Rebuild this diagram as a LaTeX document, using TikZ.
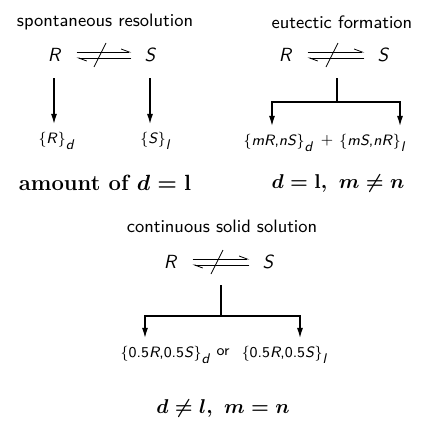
\RequirePackage{fix-cm}
\documentclass[tikz,border=0pt]{standalone}
\usepackage{amsmath,amssymb}
\usepackage{tikz}
\usetikzlibrary{arrows.meta,calc,positioning}
\def\sub#1{\raisebox{-.9ex}{\scriptsize\slshape#1}}
\def\ital#1{\textsl{#1}}
% crossed equilibrium harpoons between two named nodes
\newcommand\equil[2]{%
  \draw[harp,shorten <=7pt,shorten >=5.5pt]
    ([yshift=1.5pt]#1.east) -- ([yshift=1.5pt]#2.west);
  \draw[harp,shorten <=5.5pt,shorten >=7pt]
    ([yshift=-1.5pt]#2.west) -- ([yshift=-1.5pt]#1.east);
  \draw[slash] ($(#1.east)!.47!(#2.west)$) ++(-3pt,-6pt) -- ++(6pt,12pt);}

\begin{document}
\begin{tikzpicture}[x=0.5pt,y=-0.5pt,>=Latex,
  title/.style={font=\sffamily\fontsize{9}{11}\selectfont},
  sym/.style={font=\sffamily\slshape\fontsize{9.5}{11}\selectfont,inner sep=1pt},
  prod/.style={font=\sffamily\fontsize{7.5}{9}\selectfont,inner sep=1pt},
  cond/.style={font=\bfseries\boldmath\fontsize{11}{13}\selectfont},
  condm/.style={font=\bfseries\boldmath\fontsize{10}{12}\selectfont},
  harp/.style={thin,-{Straight Barb[left,length=4pt,width=3pt]}},
  slash/.style={thin},
  arr/.style={-{Latex[length=5pt,width=3pt]},semithick,shorten >=3pt},
  branch/.style={semithick}]
  \useasboundingbox (0,0) rectangle (435,420);
  % spontaneous resolution
  \node[title] (t1) at (105,22) {spontaneous resolution};
  \node[sym] (r1) at (54,55) {R};
  \node[sym] (s1) at (150,55) {S};
  \equil{r1}{s1}
  \node[prod] (p1) at (56,141) {\{\ital{R}\}\sub{d}};
  \node[prod] (p2) at (155,141) {\{\ital{S}\}\sub{l}};
  \node[cond] (c1) at (105,183) {amount of $d=\mathbf{l}$};
  \draw[arr] ([yshift=-7pt]r1.south) -- (r1.south |- p1.north);
  \draw[arr] ([yshift=-7pt]s1.south) -- (s1.south |- p2.north);
  % eutectic formation
  \node[title] (t2) at (342,22) {eutectic formation};
  \node[sym] (r2) at (285,55) {R};
  \node[sym] (s2) at (383,55) {S};
  \equil{r2}{s2}
  \coordinate (j2) at (337,102);
  \node[prod] (p3) at (278,143) {\{\ital{mR},\ital{nS}\}\sub{d}};
  \node[prod] (p4) at (327,141) {+};
  \node[prod] (p5) at (372,143) {\{\ital{mS},\ital{nR}\}\sub{l}};
  \node[condm] (c2) at (338,183) {$d=\mathbf{l},\ m\neq n$};
  \draw[branch] (j2 |- r2.south) ++(0,-7pt) -- (j2);
  \draw[arr] (j2) -| ([xshift=-3pt]p3.north);
  \draw[arr] (j2) -| ([xshift=14pt]p5.north);
  % continuous solid solution
  \node[title] (t3) at (222,226) {continuous solid solution};
  \node[sym] (r3) at (170,262) {R};
  \node[sym] (s3) at (268,262) {S};
  \equil{r3}{s3}
  \coordinate (j3) at (221,316);
  \node[prod] (p6) at (165,355) {\{0.5\ital{R},0.5\ital{S}\}\sub{d}};
  \node[prod] (p7) at (223,352) {or};
  \node[prod] (p8) at (284,355) {\{0.5\ital{R},0.5\ital{S}\}\sub{l}};
  \node[condm] (c3) at (223,408) {$d\neq l,\ m=n$};
  \draw[branch] (j3 |- r3.south) ++(0,-7pt) -- (j3);
  \draw[arr] (j3) -| ([xshift=-10pt]p6.north);
  \draw[arr] (j3) -| ([xshift=8pt]p8.north);
\end{tikzpicture}
\end{document}
